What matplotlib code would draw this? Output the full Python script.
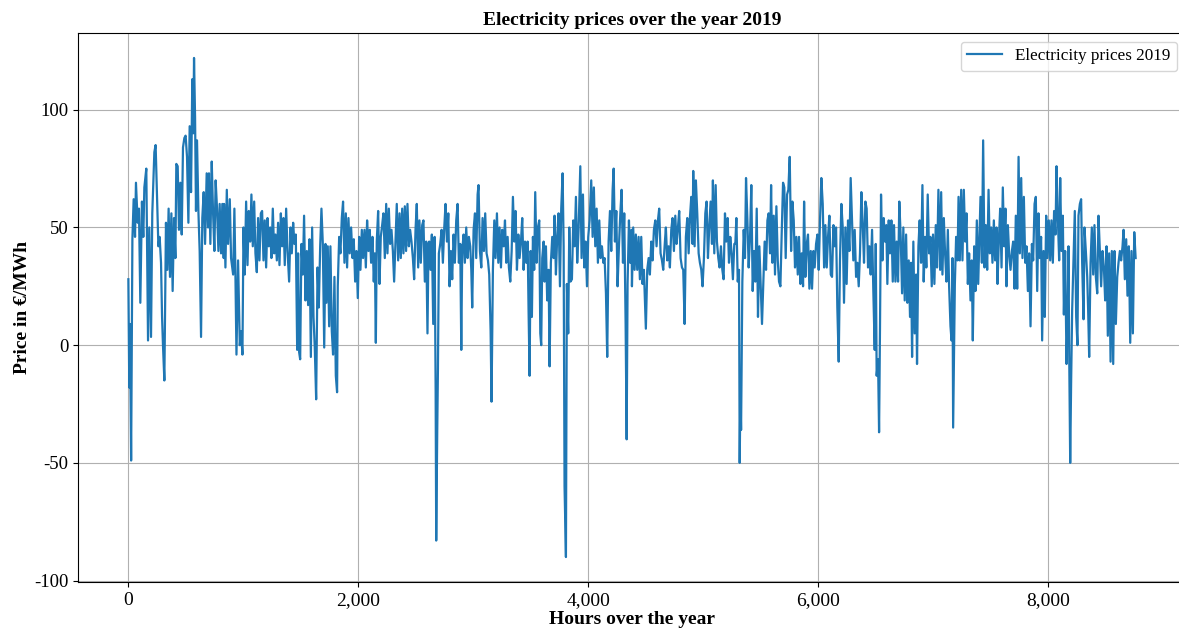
import matplotlib
matplotlib.use("Agg")
import matplotlib.pyplot as plt
from matplotlib.ticker import FuncFormatter, MultipleLocator

plt.rcParams['font.family'] = ['Liberation Serif', 'DejaVu Serif']
plt.rcParams['axes.unicode_minus'] = False

# (hour, price in EUR/MWh), one list per stretch of the year
seg_a = [(0,28),(8,-18),(14,9),(24,-49),(35,45),(46,62),(58,46),(66,69),(81,52),(92,58),(104,18),(118,61),(130,46),(139,67),(156,75),(171,2),(182,50),(197,3.5),(208,56),(226,82),(237,85),(249,63),(261,42),(272,46),(284,35),(293,12),(301,0),(313,-15),(327,52),(339,32),(350,58),(362,29),(374,56),(385,23),(397,54),(409,37),(417,77),(429,76),(440,49),(452,69),(464,47),(475,84),(487,88),(498,89),(510,80),(522,52),(533,93),(545,65),(556,113),(565,90),(571,122),(580,97),(588,57),(597,87),(609,57),(620,40),(632,3.5),(643,54),(655,65),(667,43),(681,73),(693,50),(701,73),(713,43),(725,78),(736,57),(748,40),(759,70),(771,58),(783,40),(794,60),(806,39),(817,60),(829,37)]
seg_b = [(832,60),(844,33),(856,66),(867,43),(882,62),(893,37),(911,30),(922,58),(931,30),(940,-4),(954,36),(969,0),(980,6),(992,-4),(1001,50),(1012,30),(1024,61),(1036,34),(1047,57),(1059,44),(1070,64),(1082,42),(1094,61),(1105,39),(1117,31),(1128,54),(1140,36),(1152,56),(1163,57),(1175,36),(1186,53),(1198,33),(1210,54),(1221,42),(1233,50),(1244,37),(1256,58),(1268,39),(1279,47),(1291,36),(1302,52),(1314,34),(1326,56),(1337,42),(1349,54),(1360,34),(1372,58),(1384,40),(1398,27),(1410,50),(1421,39),(1433,52),(1444,43),(1456,47),(1468,-2),(1476,39),(1485,-3),(1494,-6),(1505,43),(1517,30),(1528,55),(1540,19),(1552,40),(1563,17),(1575,45),(1587,-5),(1598,50),(1610,12),(1621,-1),(1633,-23),(1645,33),(1656,16),(1668,42),(1679,58),(1691,43),(1703,-1)]
seg_c = [(1714,43),(1722,18),(1734,42),(1746,8),(1757,42),(1769,6),(1780,-4),(1792,29),(1804,-13),(1815,-20),(1821,25),(1833,46),(1844,39),(1856,54),(1867,61),(1879,35),(1891,56),(1902,33),(1914,54),(1925,39),(1937,50),(1949,37),(1960,45),(1972,27),(1983,40),(1995,20),(2007,46),(2018,32),(2030,49),(2041,37),(2053,49),(2065,33),(2076,53),(2088,40),(2099,49),(2111,35),(2123,46),(2134,27),(2143,39),(2152,1),(2160,44),(2172,57),(2184,26),(2195,46),(2207,51),(2218,56),(2230,37),(2242,60),(2253,39),(2265,58),(2276,43),(2288,49),(2300,40),(2311,27),(2323,44),(2334,60),(2346,36),(2358,56),(2369,37),(2381,58),(2392,39),(2404,59),(2415,40),(2427,60),(2439,42),(2450,49),(2462,44),(2474,37),(2485,28),(2497,49),(2508,60),(2520,33),(2531,53),(2543,35),(2555,51),(2566,53),(2578,27),(2590,44),(2601,5),(2610,43)]
seg_d = [(2616,44),(2628,32),(2639,47),(2651,9),(2663,46),(2672,-19),(2677,-83),(2686,-36),(2692,-10),(2700,39),(2712,43),(2724,49),(2735,35),(2747,50),(2758,60),(2770,44),(2782,56),(2793,25),(2805,40),(2816,28),(2828,47),(2839,35),(2851,53),(2863,60),(2874,35),(2886,43),(2895,-2),(2903,40),(2915,47),(2926,35),(2938,50),(2950,37),(2961,46),(2973,42),(2982,32),(2990,16),(3002,49),(3014,56),(3025,37),(3037,64),(3045,68),(3057,40),(3069,33),(3080,54),(3092,40),(3103,56),(3115,39),(3127,36),(3138,30),(3150,6),(3158,-24),(3170,32),(3182,53),(3193,37),(3205,56),(3217,35),(3228,50),(3240,33),(3251,49),(3263,42),(3275,53),(3286,35),(3298,46),(3309,33),(3321,27),(3333,40),(3344,63),(3356,44),(3367,57),(3379,32),(3391,47),(3402,37),(3414,44),(3425,54),(3437,32),(3449,44),(3460,35),(3472,44),(3480,15),(3489,-13),(3498,40)]
seg_e = [(3500,35),(3509,12),(3518,46),(3529,32),(3538,65),(3550,35),(3561,50),(3573,53),(3582,5),(3590,0),(3599,37),(3611,44),(3619,27),(3631,42),(3642,19),(3654,32),(3663,-9),(3674,35),(3686,46),(3698,37),(3706,55),(3718,30),(3729,46),(3741,56),(3753,25),(3764,58),(3776,73),(3785,42),(3793,-60),(3805,-90),(3813,26),(3825,5),(3834,50),(3845,27),(3857,28),(3869,53),(3880,42),(3892,63),(3903,35),(3915,49),(3930,76),(3941,37),(3953,64),(3964,33),(3976,44),(3988,25),(3999,46),(4011,53),(4025,70),(4037,46),(4048,67),(4060,42),(4072,58),(4083,35),(4095,53),(4106,37),(4118,42),(4130,35),(4141,37),(4153,22),(4164,-5),(4176,44),(4188,57),(4199,40),(4211,66),(4220,75),(4231,44),(4243,57),(4254,25),(4266,42),(4278,56),(4289,66),(4301,35),(4312,56),(4324,9),(4333,-40),(4341,26),(4353,53),(4364,35),(4376,49)]
seg_f = [(4379,25),(4390,50),(4402,32),(4413,47),(4425,32),(4437,46),(4448,28),(4460,46),(4471,26),(4483,32),(4492,18),(4500,7),(4512,32),(4524,37),(4535,30),(4547,44),(4558,36),(4570,49),(4582,53),(4593,42),(4605,53),(4616,58),(4628,39),(4640,36),(4651,32),(4663,42),(4674,50),(4686,36),(4698,42),(4709,33),(4721,49),(4732,54),(4744,40),(4756,55),(4767,43),(4779,50),(4790,57),(4802,37),(4814,33),(4825,32),(4837,9),(4848,46),(4860,54),(4872,39),(4883,54),(4895,63),(4906,43),(4912,74),(4924,42),(4935,70),(4947,56),(4959,39),(4970,35),(4982,32),(4993,25),(5005,37),(5017,56),(5028,61),(5040,37),(5051,50),(5063,61),(5075,43),(5083,70),(5095,39),(5107,68),(5118,44),(5130,37),(5141,33),(5153,42),(5165,32),(5176,28),(5188,56),(5199,44),(5211,54),(5223,35),(5234,46),(5246,39),(5257,28),(5269,43)]
seg_g = [(5278,43),(5287,54),(5299,27),(5310,32),(5316,-50),(5322,-20),(5328,-36),(5339,27),(5351,49),(5362,37),(5371,71),(5383,53),(5394,33),(5406,46),(5417,68),(5429,23),(5441,40),(5452,27),(5464,58),(5475,12),(5487,42),(5499,25),(5510,9),(5522,27),(5533,44),(5545,32),(5557,53),(5568,56),(5580,39),(5589,68),(5600,35),(5612,55),(5623,30),(5635,59),(5647,36),(5658,27),(5670,25),(5681,47),(5693,69),(5704,67),(5716,37),(5728,64),(5739,66),(5751,80),(5763,40),(5774,61),(5786,53),(5797,33),(5809,46),(5821,30),(5832,46),(5844,26),(5855,39),(5867,25),(5876,61),(5887,29),(5899,43),(5910,47),(5922,24),(5934,40),(5945,24),(5957,40),(5968,33),(5980,43),(5992,47),(6003,32),(6015,54),(6026,71),(6038,60),(6050,33),(6061,51),(6073,33),(6084,46),(6096,55),(6108,30),(6119,29),(6131,51),(6142,42),(6154,50)]
seg_h = [(6165,16),(6177,-7),(6188,36),(6200,60),(6212,50),(6223,18),(6235,50),(6246,26),(6258,53),(6270,40),(6281,71),(6293,53),(6304,36),(6316,49),(6328,29),(6339,35),(6351,25),(6362,39),(6374,65),(6386,51),(6397,35),(6409,61),(6420,58),(6432,33),(6444,42),(6455,30),(6467,49),(6478,23),(6490,-2),(6499,43),(6507,-13),(6519,-6),(6528,-37),(6536,7),(6545,64),(6557,36),(6568,54),(6580,44),(6591,51),(6600,26),(6612,53),(6623,39),(6635,53),(6647,27),(6658,51),(6670,27),(6681,44),(6693,27),(6704,61),(6716,46),(6728,22),(6739,50),(6751,19),(6763,47),(6774,18),(6786,36),(6797,12),(6806,35),(6815,-5),(6826,44),(6838,5),(6850,30),(6858,-8),(6870,42),(6881,53),(6893,35),(6905,68),(6916,27),(6928,46),(6939,33),(6951,64),(6963,39),(6974,46),(6986,25),(6997,47),(7009,26),(7021,51),(7032,33),(7044,66)]
seg_i = [(7059,32),(7068,65),(7079,30),(7091,54),(7102,39),(7114,27),(7126,49),(7137,25),(7149,8),(7158,2),(7166,37),(7172,-35),(7187,26),(7198,46),(7210,36),(7219,63),(7230,36),(7242,66),(7253,36),(7265,66),(7277,44),(7288,56),(7300,26),(7311,39),(7323,19),(7334,36),(7343,2),(7355,42),(7366,23),(7378,53),(7390,26),(7401,46),(7410,63),(7422,35),(7433,87),(7445,33),(7456,51),(7468,32),(7480,66),(7491,39),(7503,50),(7514,35),(7526,53),(7537,36),(7549,50),(7558,26),(7569,44),(7581,58),(7593,33),(7604,67),(7616,42),(7627,58),(7636,25),(7648,51),(7659,39),(7671,32),(7683,40),(7694,44),(7706,24),(7717,55),(7729,24),(7741,80),(7752,39),(7764,71),(7775,37),(7787,63),(7799,35),(7810,42),(7822,23),(7833,39),(7845,8),(7857,43),(7868,36),(7880,60),(7891,63),(7903,23),(7914,56),(7926,37)]
seg_j = [(7937,46),(7946,2),(7958,40),(7969,12),(7981,55),(7992,37),(8004,53),(8016,36),(8027,53),(8039,35),(8050,57),(8062,47),(8071,76),(8082,55),(8094,36),(8103,71),(8114,40),(8126,55),(8135,13),(8146,40),(8158,-8),(8169,16),(8175,42),(8181,-2),(8190,-50),(8198,-16),(8207,15),(8219,37),(8230,57),(8242,12),(8253,0),(8262,55),(8274,60),(8285,62),(8294,35),(8306,11),(8314,50),(8326,40),(8338,29),(8346,15),(8355,-5),(8367,35),(8378,50),(8390,30),(8401,51),(8413,29),(8425,22),(8436,55),(8448,40),(8459,25),(8471,40),(8483,33),(8494,19),(8506,42),(8517,4),(8529,39),(8541,-7),(8552,40),(8564,-8),(8575,40),(8587,9),(8599,29),(8610,35),(8622,40),(8633,36),(8645,42),(8654,49),(8665,28),(8677,45),(8688,21),(8700,42),(8712,1),(8723,40),(8735,5),(8747,48),(8759,37)]

series_label = "Electricity prices 2019"
title = "Electricity prices over the year 2019"
xlabel = "Hours over the year"
ylabel = "Price in €/MWh"

points = seg_a + seg_b + seg_c + seg_d + seg_e + seg_f + seg_g + seg_h + seg_i + seg_j
hours = [p[0] for p in points]
prices = [p[1] for p in points]

fig = plt.figure(figsize=(11.79, 6.35), dpi=100)
ax = fig.add_axes([78/1179, 1 - 582/635, 1108/1179, (582 - 33)/635])
ax.plot(hours, prices, color='#1f77b4', linewidth=1.6, label=series_label)

ax.margins(x=0.05, y=0.05)
ax.xaxis.set_major_locator(MultipleLocator(2000))
ax.yaxis.set_major_locator(MultipleLocator(50))
ax.xaxis.set_major_formatter(FuncFormatter(lambda v, p: f"{int(v):,}"))
ax.yaxis.set_major_formatter(FuncFormatter(lambda v, p: f"{int(v)}"))
ax.tick_params(axis='x', labelsize=14)
ax.tick_params(axis='y', labelsize=13.5)
ax.grid(True, color='#b0b0b0', linewidth=0.8)
ax.set_axisbelow(True)

ax.set_title(title, fontsize=14, fontweight='bold')
ax.set_xlabel(xlabel, fontsize=14, fontweight='bold', labelpad=2)
ax.set_ylabel(ylabel, fontsize=14, fontweight='bold', labelpad=2)
ax.legend(loc='upper right', fontsize=12.3)

fig.savefig('out.png', dpi=100)
